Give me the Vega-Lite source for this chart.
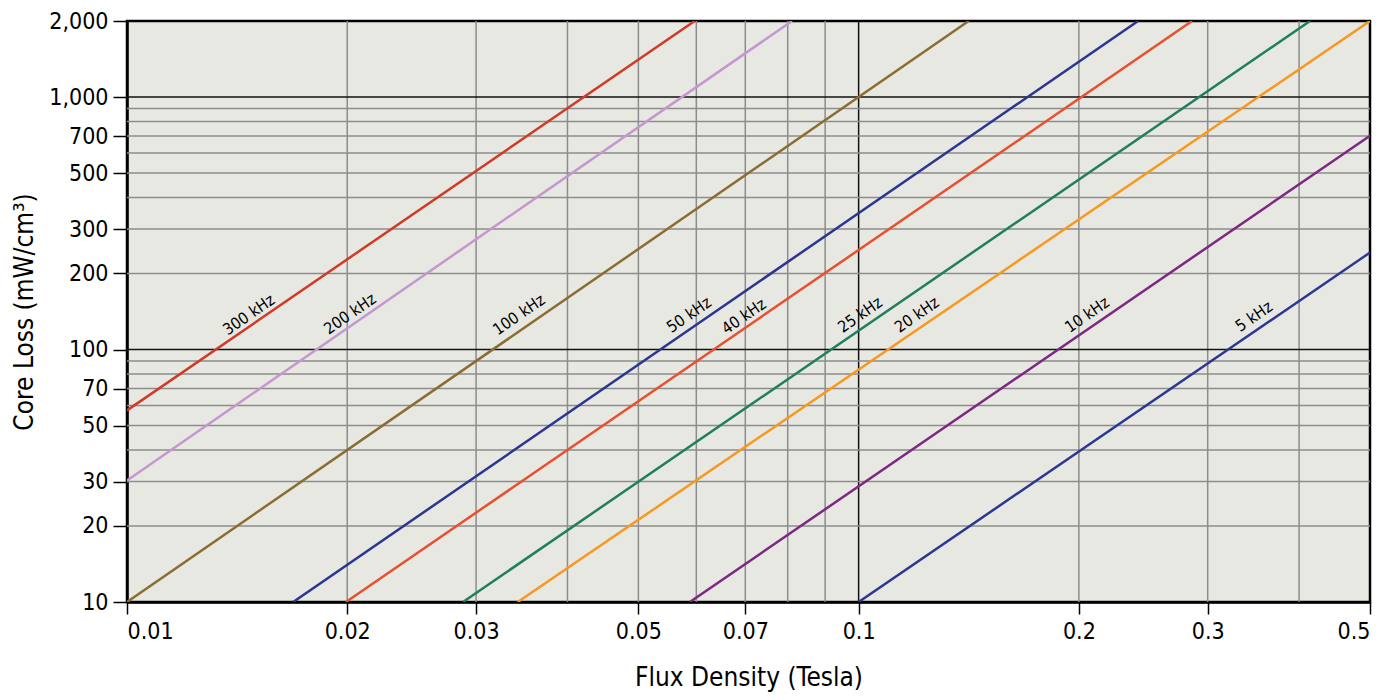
{
  "$schema": "https://vega.github.io/schema/vega-lite/v6.json",
  "width": 1243,
  "height": 581,
  "autosize": {"type": "none"},
  "padding": {"left": 127, "top": 21, "right": 28, "bottom": 98},
  "background": "white",
  "config": {
    "font": "DejaVu Sans Condensed",
    "view": {"fill": "#e8e8e3", "stroke": "black", "strokeWidth": 2.5},
    "axis": {
      "labelFont": "DejaVu Sans Condensed",
      "titleFont": "DejaVu Sans Condensed",
      "labelColor": "black",
      "titleColor": "black",
      "domainColor": "black",
      "domainWidth": 2.5,
      "tickColor": "black",
      "tickWidth": 1.5,
      "grid": false,
      "labelFontSize": 23,
      "titleFontSize": 26,
      "titleFontWeight": "normal"
    }
  },
  "datasets": {
    "curves": [
      {"freq": "300 kHz", "B": 0.01, "loss": 57.4},
      {"freq": "300 kHz", "B": 0.0597, "loss": 2000},
      {"freq": "200 kHz", "B": 0.01, "loss": 30.3},
      {"freq": "200 kHz", "B": 0.0811, "loss": 2000},
      {"freq": "100 kHz", "B": 0.01, "loss": 10},
      {"freq": "100 kHz", "B": 0.1414, "loss": 2000},
      {"freq": "50 kHz", "B": 0.01687, "loss": 10},
      {"freq": "50 kHz", "B": 0.241, "loss": 2000},
      {"freq": "40 kHz", "B": 0.01992, "loss": 10},
      {"freq": "40 kHz", "B": 0.2856, "loss": 2000},
      {"freq": "25 kHz", "B": 0.02879, "loss": 10},
      {"freq": "25 kHz", "B": 0.414, "loss": 2000},
      {"freq": "20 kHz", "B": 0.0342, "loss": 10},
      {"freq": "20 kHz", "B": 0.5, "loss": 2000},
      {"freq": "10 kHz", "B": 0.0588, "loss": 10},
      {"freq": "10 kHz", "B": 0.5, "loss": 702},
      {"freq": "5 kHz", "B": 0.1, "loss": 10},
      {"freq": "5 kHz", "B": 0.5, "loss": 242}
    ],
    "labels": [
      {"freq": "300 kHz", "B": 0.01468, "loss": 137},
      {"freq": "200 kHz", "B": 0.02018, "loss": 138},
      {"freq": "100 kHz", "B": 0.03435, "loss": 137},
      {"freq": "50 kHz", "B": 0.05866, "loss": 137},
      {"freq": "40 kHz", "B": 0.0697, "loss": 135},
      {"freq": "25 kHz", "B": 0.1005, "loss": 137},
      {"freq": "20 kHz", "B": 0.1202, "loss": 137},
      {"freq": "10 kHz", "B": 0.2053, "loss": 137},
      {"freq": "5 kHz", "B": 0.3472, "loss": 135}
    ],
    "gridx": [
      {"v": 0.02, "major": "n"}, {"v": 0.03, "major": "n"}, {"v": 0.04, "major": "n"},
      {"v": 0.05, "major": "n"}, {"v": 0.06, "major": "n"}, {"v": 0.07, "major": "n"},
      {"v": 0.08, "major": "n"}, {"v": 0.09, "major": "n"}, {"v": 0.1, "major": "y"},
      {"v": 0.2, "major": "n"}, {"v": 0.3, "major": "n"}, {"v": 0.4, "major": "n"}
    ],
    "gridy": [
      {"v": 20, "major": "n"}, {"v": 30, "major": "n"}, {"v": 40, "major": "n"},
      {"v": 50, "major": "n"}, {"v": 60, "major": "n"}, {"v": 70, "major": "n"},
      {"v": 80, "major": "n"}, {"v": 90, "major": "n"}, {"v": 100, "major": "y"},
      {"v": 200, "major": "n"}, {"v": 300, "major": "n"}, {"v": 400, "major": "n"},
      {"v": 500, "major": "n"}, {"v": 600, "major": "n"}, {"v": 700, "major": "n"},
      {"v": 800, "major": "n"}, {"v": 900, "major": "n"}, {"v": 1000, "major": "y"}
    ]
  },
  "layer": [
    {
      "data": {"name": "gridx"},
      "mark": {"type": "rule"},
      "encoding": {
        "x": {"field": "v", "type": "quantitative", "scale": {"type": "log", "domain": [0.01, 0.5], "nice": false},
          "axis": {"values": [0.01, 0.02, 0.03, 0.05, 0.07, 0.1, 0.2, 0.3, 0.5], "format": ".2~f", "tickSize": 12, "labelPadding": 6, "title": "Flux Density (Tesla)", "titlePadding": 21}},
        "color": {"field": "major", "type": "nominal", "scale": {"domain": ["n", "y"], "range": ["#8c8c8c", "#111111"]}, "legend": null},
        "strokeWidth": {"value": 1.5}
      }
    },
    {
      "data": {"name": "gridy"},
      "mark": {"type": "rule"},
      "encoding": {
        "y": {"field": "v", "type": "quantitative", "scale": {"type": "log", "domain": [10, 2000], "nice": false},
          "axis": {"values": [10, 20, 30, 50, 70, 100, 200, 300, 500, 700, 1000, 2000], "format": ",", "tickSize": 14, "labelPadding": 5, "title": "Core Loss (mW/cm³)", "titlePadding": 11}},
        "color": {"field": "major", "type": "nominal", "scale": {"domain": ["n", "y"], "range": ["#8c8c8c", "#111111"]}, "legend": null},
        "strokeWidth": {"value": 1.5}
      }
    },
    {
      "data": {"name": "curves"},
      "mark": {"type": "line", "strokeWidth": 2.5, "clip": true},
      "encoding": {
        "x": {"field": "B", "type": "quantitative"},
        "y": {"field": "loss", "type": "quantitative"},
        "detail": {"field": "freq"},
        "stroke": {"field": "freq", "type": "nominal", "legend": null,
          "scale": {"domain": ["300 kHz", "200 kHz", "100 kHz", "50 kHz", "40 kHz", "25 kHz", "20 kHz", "10 kHz", "5 kHz"],
                    "range": ["#d03a27", "#c497d0", "#8b6d34", "#2d3592", "#e8502e", "#1f7f5e", "#f7981f", "#7e2883", "#2e3694"]}}
      }
    },
    {
      "data": {"name": "labels"},
      "mark": {"type": "text", "angle": -34.7, "align": "center", "baseline": "middle", "fontSize": 16, "color": "black"},
      "encoding": {
        "x": {"field": "B", "type": "quantitative"},
        "y": {"field": "loss", "type": "quantitative"},
        "text": {"field": "freq"}
      }
    }
  ]
}
